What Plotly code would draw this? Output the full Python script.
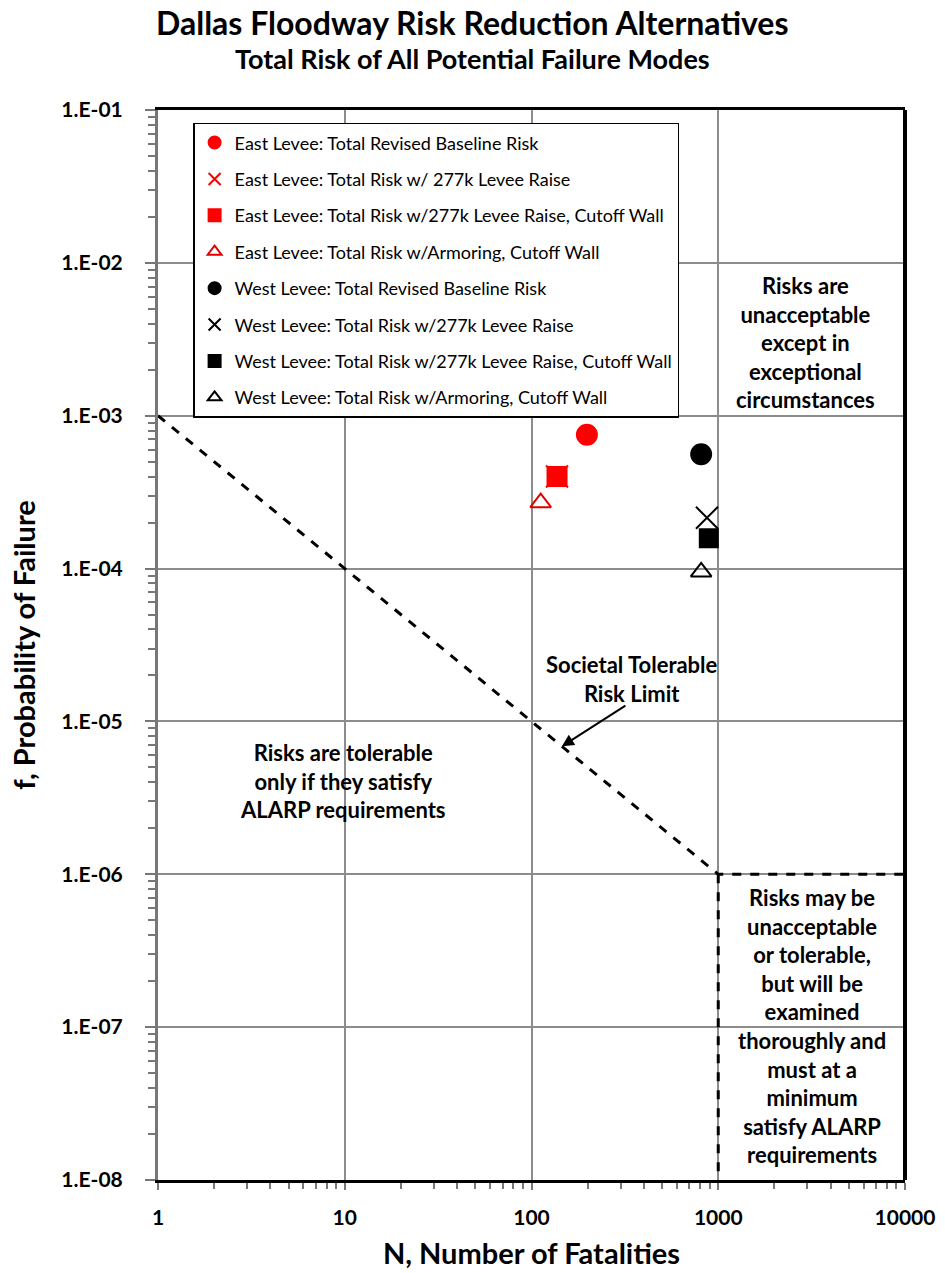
import plotly.graph_objects as go

# F-N data: number of fatalities (N) vs annual probability of failure (f)
series_names = [
    "East Levee: Total Revised Baseline Risk",
    "East Levee: Total Risk w/ 277k Levee Raise",
    "East Levee: Total Risk w/277k Levee Raise, Cutoff Wall",
    "East Levee: Total Risk w/Armoring, Cutoff Wall",
    "West Levee: Total Revised Baseline Risk",
    "West Levee: Total Risk w/277k Levee Raise",
    "West Levee: Total Risk w/277k Levee Raise, Cutoff Wall",
    "West Levee: Total Risk w/Armoring, Cutoff Wall",
]
fatalities = [198, 137, 137, 112, 810, 870, 890, 810]
probability = [7.5e-4, 4.0e-4, 4.0e-4, 2.7e-4, 5.6e-4, 2.15e-4, 1.58e-4, 9.5e-5]
colors = ["#ff0000", "#ff0000", "#ff0000", "#e00000", "#000000", "#000000", "#000000", "#000000"]
symbols = ["circle", "x-thin-open", "square", "triangle-up-open",
           "circle", "x-thin-open", "square", "triangle-up-open"]
sizes = [20, 22, 19, 18, 20, 22, 18, 18]

# Societal tolerable risk limit (f = 1e-3 / N, capped at N = 1000)
limit_n = [1, 1000, 10000, None, 1000, 1000]
limit_f = [1e-3, 1e-6, 1e-6, None, 1e-6, 1e-8]

y_tickvals = [1e-1, 1e-2, 1e-3, 1e-4, 1e-5, 1e-6, 1e-7, 1e-8]
y_ticktext = ["1.E-01", "1.E-02", "1.E-03", "1.E-04", "1.E-05", "1.E-06", "1.E-07", "1.E-08"]
x_tickvals = [1, 10, 100, 1000, 10000]
x_ticktext = ["1", "10", "100", "1000", "10000"]

FONT = "Lato"

fig = go.Figure()

fig.add_trace(go.Scatter(
    x=limit_n, y=limit_f, mode="lines",
    line=dict(color="black", width=3, dash="dash"),
    showlegend=False, hoverinfo="skip",
))

for i, name in enumerate(series_names):
    fig.add_trace(go.Scatter(
        x=[fatalities[i]], y=[probability[i]], mode="markers", name=name,
        legendgroup=f"g{i}",
        marker=dict(symbol=symbols[i], size=sizes[i], color=colors[i],
                    line=dict(color=colors[i], width=2)),
    ))

minor_x = [m * 10 ** d for d in range(0, 4) for m in range(2, 10)]
minor_y = [m * 10.0 ** d for d in range(-8, -1) for m in range(2, 10)]

tick_font = dict(family=FONT, size=21, color="black", weight="bold")
title_font = dict(family=FONT, size=29, color="black")

fig.update_xaxes(
    type="log", range=[0, 4], automargin=False,
    tickmode="array", tickvals=x_tickvals, ticktext=x_ticktext,
    ticks="outside", ticklen=7, tickcolor="#777", tickwidth=1.5,
    ticklabelstandoff=10,
    minor=dict(tickmode="array", tickvals=minor_x, ticks="outside", ticklen=6,
               tickcolor="#777", tickwidth=1.5, showgrid=False),
    showgrid=True, gridcolor="#8c8c8c", gridwidth=1.5,
    showline=True, linecolor="black", linewidth=3, mirror=True,
    tickfont=tick_font,
    title=dict(text="<b>N, Number of Fatalities</b>", standoff=16, font=title_font),
)
fig.update_yaxes(
    type="log", range=[-8, -1], automargin=False,
    tickmode="array", tickvals=y_tickvals, ticktext=y_ticktext,
    ticks="outside", ticklen=10, tickcolor="#777", tickwidth=1.5,
    ticklabelstandoff=18,
    minor=dict(tickmode="array", tickvals=minor_y, ticks="outside", ticklen=7,
               tickcolor="#777", tickwidth=1.5, showgrid=False),
    showgrid=True, gridcolor="#8c8c8c", gridwidth=1.5,
    showline=True, linecolor="#777", linewidth=3,
    tickfont=tick_font,
    title=dict(text="<b>f, Probability of Failure</b>", standoff=18, font=title_font),
)

# heavy right border of the plot frame
fig.add_shape(type="line", xref="paper", yref="paper", x0=1, x1=1, y0=0, y1=1,
              line=dict(color="black", width=4))

# chart titles, centred on the page
fig.add_annotation(
    x=0.421, y=1.082, xref="paper", yref="paper", showarrow=False,
    text="<b>Dallas Floodway Risk Reduction Alternatives</b>",
    font=dict(family=FONT, size=32, color="black"), yanchor="middle",
)
fig.add_annotation(
    x=0.421, y=1.0485, xref="paper", yref="paper", showarrow=False,
    text="<b>Total Risk of All Potential Failure Modes</b>",
    font=dict(family=FONT, size=27, color="black"), yanchor="middle",
)

annot_font = dict(family=FONT, size=22, color="black")
fig.add_annotation(
    x=3.465, y=-2.52, xref="x", yref="y",
    text="<b>Risks are<br>unacceptable<br>except in<br>exceptional<br>circumstances</b>",
    showarrow=False, font=annot_font, align="center", yanchor="middle",
)
fig.add_annotation(
    x=0.99, y=-5.39, xref="x", yref="y",
    text="<b>Risks are tolerable<br>only if they satisfy<br>ALARP requirements</b>",
    showarrow=False, font=annot_font, align="center", yanchor="middle",
)
fig.add_annotation(
    x=3.5, y=-6.99, xref="x", yref="y",
    text=("<b>Risks may be<br>unacceptable<br>or tolerable,<br>but will be<br>examined<br>"
          "thoroughly and<br>must at a<br>minimum<br>satisfy ALARP<br>requirements</b>"),
    showarrow=False, font=annot_font, align="center", yanchor="middle",
)
fig.add_annotation(
    x=2.163, y=-5.163, xref="x", yref="y",
    ax=2.511, ay=-4.89, axref="x", ayref="y",
    text="", showarrow=True, arrowhead=2, arrowsize=1.2, arrowwidth=2, arrowcolor="black",
)
fig.add_annotation(
    x=2.538, y=-4.72, xref="x", yref="y",
    text="<b>Societal Tolerable<br>Risk Limit</b>",
    showarrow=False, font=annot_font, align="center", yanchor="middle",
)

fig.update_layout(
    width=945, height=1273,
    margin=dict(l=158, r=40, t=110, b=93),
    paper_bgcolor="white", plot_bgcolor="white",
    legend=dict(
        x=0.047, y=0.988, xanchor="left", yanchor="top",
        bgcolor="white", bordercolor="black", borderwidth=1.5,
        font=dict(family=FONT, size=18, color="black"),
        tracegroupgap=10, itemsizing="constant",
    ),
    showlegend=True,
)

fig.write_html("out.html")
